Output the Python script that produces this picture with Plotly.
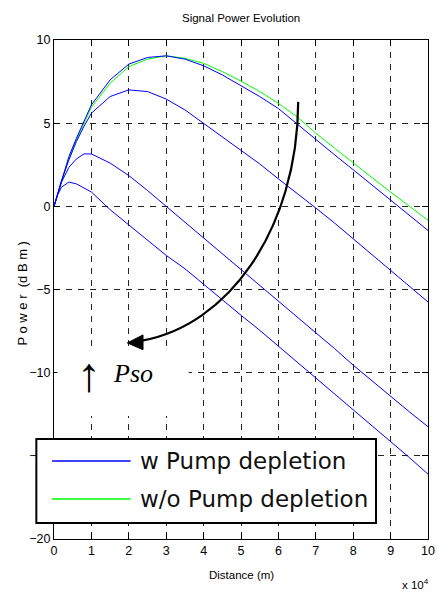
import plotly.graph_objects as go

# ---- data (distance in units of 1e4 m, power in dBm) ----
distance_1e4m = [0, 0.1, 0.2, 0.4, 0.6, 0.8, 1, 1.5, 2, 2.5, 3, 3.5, 4, 4.5, 5,
                 5.5, 6, 6.5, 7, 7.5, 8, 8.5, 9, 9.5, 10]

p_wo_depletion = [0, 0.72, 1.5, 2.9, 4.0, 5.0, 5.95, 7.4, 8.4, 8.85, 9.05, 8.9, 8.6,
                  8.1, 7.53, 6.9, 6.19, 5.38, 4.4, 3.5, 2.6, 1.73, 0.86, 0.0, -0.84]

p_w_depletion_1 = [0, 0.75, 1.6, 3.0, 4.1, 5.1, 6.1, 7.6, 8.55, 8.95, 9.05, 8.85, 8.45,
                   7.9, 7.25, 6.6, 5.88, 4.95, 4.0, 3.1, 2.2, 1.3, 0.4, -0.5, -1.45]
p_w_depletion_2 = [0, 0.75, 1.55, 2.8, 3.9, 4.8, 5.6, 6.6, 7.0, 6.9, 6.45, 5.8, 5.0,
                   4.2, 3.4, 2.55, 1.65, 0.8, -0.1, -1.0, -1.95, -2.85, -3.8, -4.75, -5.75]
p_w_depletion_3 = [0, 0.8, 1.45, 2.35, 2.85, 3.15, 3.15, 2.6, 1.85, 0.95, 0.0, -0.95,
                   -1.85, -2.8, -3.8, -4.75, -5.7, -6.65, -7.6, -8.55, -9.55, -10.5,
                   -11.45, -12.35, -13.25]
p_w_depletion_4 = [0, 0.7, 1.15, 1.46, 1.35, 1.1, 0.86, -0.2, -1.1, -2.05, -2.95, -3.75,
                   -4.7, -5.6, -6.55, -7.45, -8.4, -9.35, -10.3, -11.25, -12.2, -13.2,
                   -14.15, -15.1, -16.1]

x_ticks = [0, 1, 2, 3, 4, 5, 6, 7, 8, 9, 10]
y_ticks = [-20, -15, -10, -5, 0, 5, 10]

SANS = "Liberation Sans, Arial, sans-serif"

fig = go.Figure()
fig.add_trace(go.Scatter(x=distance_1e4m, y=p_wo_depletion, mode="lines",
                         line=dict(color="#00ff00", width=1), name="w/o Pump depletion"))
for series in [p_w_depletion_1, p_w_depletion_2, p_w_depletion_3, p_w_depletion_4]:
    fig.add_trace(go.Scatter(x=distance_1e4m, y=series, mode="lines",
                             line=dict(color="#0000ff", width=1), name="w Pump depletion"))

fig.update_layout(
    width=438, height=595,
    margin=dict(l=54, r=3, t=40, b=56),
    paper_bgcolor="white", plot_bgcolor="white",
    showlegend=False,
    font=dict(family=SANS, size=12, color="black"),
)
axis_common = dict(showline=True, linecolor="black", linewidth=1, mirror="ticks",
                   ticks="inside", ticklen=6, tickcolor="black",
                   showgrid=True, gridcolor="#222222", gridwidth=1, griddash="6px,6px",
                   zeroline=False, tickfont=dict(family=SANS, size=12.5, color="black"))
fig.update_xaxes(range=[0, 10], tickvals=x_ticks, ticklabeloverflow="allow", **axis_common)
fig.update_yaxes(range=[-20, 10], tickvals=y_ticks, **axis_common)

shapes = [
    # white box behind the Pso label
    dict(type="rect", xref="x", yref="y", x0=0.09, x1=3.6, y0=-12.6, y1=-8.67,
         fillcolor="white", line=dict(width=0), layer="above"),
    # curved arrow
    dict(type="path", xref="x", yref="y",
         path="M 6.53,6.28 C 6.51,-1.45 4.63,-7.17 2.35,-8.07",
         line=dict(color="black", width=2.2), layer="above"),
    dict(type="path", xref="x", yref="y",
         path="M 1.96,-8.21 L 2.38,-7.73 L 2.38,-8.62 Z",
         fillcolor="black", line=dict(color="black", width=1), layer="above"),
    # legend box
    dict(type="rect", xref="paper", yref="paper", x0=-0.0472, x1=0.861, y0=0.032, y1=0.2004,
         fillcolor="white", line=dict(color="black", width=2), layer="above"),
    dict(type="line", xref="paper", yref="paper", x0=-0.0052, x1=0.2047, y0=0.1563, y1=0.1563,
         line=dict(color="#0000ff", width=1.5), layer="above"),
    dict(type="line", xref="paper", yref="paper", x0=-0.0052, x1=0.2047, y0=0.0802, y1=0.0802,
         line=dict(color="#00ff00", width=1.5), layer="above"),
]
fig.update_layout(shapes=shapes)

annotations = [
    dict(text="Signal Power Evolution", xref="paper", yref="paper", x=0.5, y=1.044,
         xanchor="center", yanchor="middle", showarrow=False,
         font=dict(family=SANS, size=11.5)),
    dict(text="Distance (m)", xref="paper", yref="paper", x=0.5, y=-0.0721,
         xanchor="center", yanchor="middle", showarrow=False,
         font=dict(family=SANS, size=11.5)),
    dict(text="x 10<sup>4</sup>", xref="paper", yref="paper", x=0.925, y=-0.0902,
         xanchor="left", yanchor="middle", showarrow=False,
         font=dict(family=SANS, size=11.5)),
    dict(text="P o w e r  (d B m )", xref="paper", yref="paper", x=-0.084, y=0.493,
         xanchor="center", yanchor="middle", textangle=-90, showarrow=False,
         font=dict(family=SANS, size=13)),
    dict(text="↑", xref="x", yref="y", x=0.94, y=-10.1, xanchor="center", yanchor="middle",
         showarrow=False, font=dict(family="Liberation Serif, DejaVu Serif, serif", size=48)),
    dict(text="<i>Pso</i>", xref="x", yref="y", x=1.53, y=-10.06, xanchor="left",
         yanchor="middle", showarrow=False,
         font=dict(family="Liberation Serif, Times New Roman, serif", size=26)),
    dict(text="w Pump depletion", xref="paper", yref="paper", x=0.2257, y=0.1563,
         xanchor="left", yanchor="middle", showarrow=False,
         font=dict(family="DejaVu Sans, sans-serif", size=23, color="#111111")),
    dict(text="w/o Pump depletion", xref="paper", yref="paper", x=0.2257, y=0.0802,
         xanchor="left", yanchor="middle", showarrow=False,
         font=dict(family="DejaVu Sans, sans-serif", size=23, color="#111111")),
]
fig.update_layout(annotations=annotations)

fig.write_html("out.html")
